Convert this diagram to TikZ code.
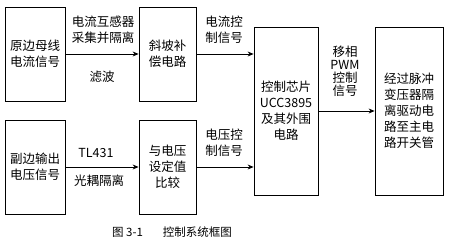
\documentclass[tikz,border=0pt]{standalone}
\usepackage{fontspec}
\setmainfont{Noto Sans CJK SC}
\usepackage{tikz}
\usetikzlibrary{arrows.meta,positioning,calc}

\begin{document}
\begin{tikzpicture}[
  x=1pt, y=-1pt,
  font=\fontsize{12.5}{16}\selectfont,
  blk/.style={draw, line width=0.8pt, align=center, inner sep=0pt},
  lbl/.style={align=center, inner sep=0pt},
  arrow/.style={-{Stealth[length=6pt, width=5pt]}, line width=0.8pt}
]
\useasboundingbox (0,0) rectangle (450,243);

% Left column: signal sources
\node[blk, minimum width=60pt, minimum height=94pt] (isrc) at (35,54)
  {原边母线\\电流信号};
\node[blk, minimum width=60pt, minimum height=94pt] (vsrc) at (35,167)
  {副边输出\\电压信号};

% Second column
\node[blk, minimum width=57pt, minimum height=94pt] (ramp) at (167.5,54)
  {斜坡补\\偿电路};
\node[blk, minimum width=57pt, minimum height=94pt] (cmp) at (167.5,167)
  {与电压\\设定值\\比较};

% Controller and driver
\node[blk, minimum width=64pt, minimum height=168pt] (chip) at (286,111)
  {控制芯片\\UCC3895\\及其外围\\电路};
\node[blk, minimum width=68pt, minimum height=168pt] (drv) at (409,111)
  {经过脉冲\\变压器隔\\离驱动电\\路至主电\\路开关管};

% Connections
\draw[arrow] (isrc.east) -- (ramp.west);
\draw[arrow] (vsrc.east) -- (cmp.west);
\draw[arrow] (ramp.east) -- (ramp.east -| chip.west);
\draw[arrow] (cmp.east) -- (cmp.east -| chip.west);
\draw[arrow] (chip.east) -- (chip.east -| drv.west);

% Connector labels
\node[lbl] (ctlbl) at (103,30) {电流互感器\\采集并隔离};
\node[lbl] (filt) at (102,77) {滤波};
\node[lbl] (tl) at (96,153) {TL431};
\node[lbl] (opto) at (99,181) {光耦隔离};
\node[lbl] (isig) at (224,30) {电流控\\制信号};
\node[lbl] (vsig) at (224,143) {电压控\\制信号};
\node[lbl, font=\fontsize{12.5}{13}\selectfont] (pwm) at (345,71)
  {移相\\PWM\\控制\\信号};

% Caption
\node[lbl, font=\fontsize{11.5}{13}\selectfont] (cap) at (172,232)
  {图 3-1\hspace{20pt}控制系统框图};
\end{tikzpicture}
\end{document}
